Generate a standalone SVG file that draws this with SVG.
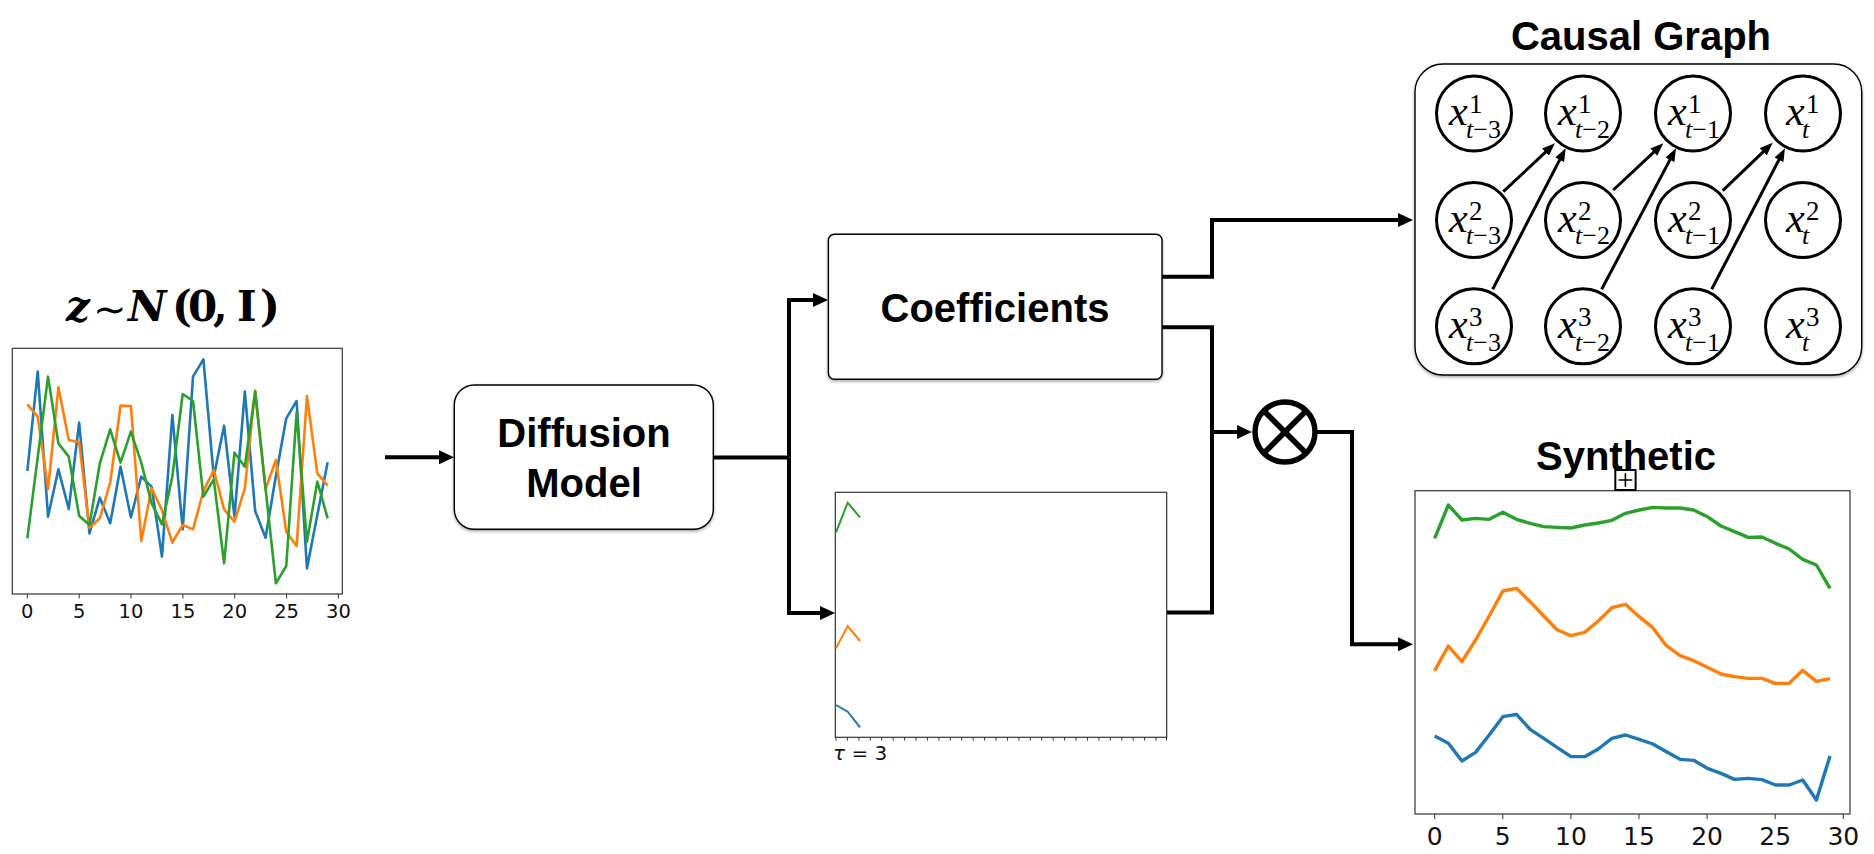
<svg xmlns="http://www.w3.org/2000/svg" width="1874" height="854" viewBox="0 0 1874 854">
<style>
.conn{fill:none;stroke:#000;stroke-width:4;stroke-linejoin:miter;stroke-linecap:butt}
.arrow{marker-end:url(#ah)}
.box{fill:#fff;stroke:#000;stroke-width:1.4;filter:url(#sh)}
.lbl{font-family:"Liberation Sans",Arial,sans-serif;font-weight:bold;font-size:40px;text-anchor:middle;fill:#000}
.gn circle{fill:#fff;stroke:#000;stroke-width:3}
.math{font-family:"Liberation Serif","Times New Roman",serif;fill:#000}
.x{font-size:42px;font-style:italic}
.sp{font-size:27px}
.sb{font-size:26px}
.it{font-style:italic}
.edge{fill:none;stroke:#000;stroke-width:3;marker-end:url(#ah2)}
.frame{fill:#fff;stroke:#333;stroke-width:1.2}
.tick{stroke:#333;stroke-width:1}
.tl{font-family:"DejaVu Sans",sans-serif;text-anchor:middle;fill:#111}
.s{fill:none;stroke-linejoin:round;vector-effect:non-scaling-stroke}
.b{stroke:#1f77b4}.o{stroke:#ff7f0e}.g{stroke:#2ca02c}
</style>
<defs>
<filter id="sh" x="-10%" y="-10%" width="120%" height="130%">
<feDropShadow dx="0" dy="1.5" stdDeviation="1.5" flood-color="#000" flood-opacity="0.35"/>
</filter>
<marker id="ah" markerUnits="userSpaceOnUse" markerWidth="16" markerHeight="14" refX="7" refY="7" orient="auto"><path d="M0,0 L15,7 L0,14 z" fill="#000"/></marker>
<marker id="ah2" markerUnits="userSpaceOnUse" markerWidth="14" markerHeight="10" refX="7" refY="5" orient="auto"><path d="M0,0 L13,5 L0,10 z" fill="#000"/></marker>
</defs>
<rect width="1874" height="854" fill="#fff"/>

<!-- Noise input plot -->
<g id="noise-input">
<text font-family="DejaVu Serif,serif" font-weight="bold" font-size="42" y="321" fill="#000"><tspan x="66" font-style="italic">z</tspan><tspan x="93" y="323" font-family="DejaVu Sans,sans-serif" font-weight="normal" font-size="40">∼</tspan><tspan x="128" y="321" font-style="italic">N</tspan><tspan x="172">(</tspan><tspan x="188">0</tspan><tspan x="213">,</tspan><tspan x="237">I</tspan><tspan x="260">)</tspan></text>
<rect class="frame" x="12.3" y="348.3" width="330" height="245.7"/>
<g transform="translate(0,270) scale(0.33333)">
<polyline class="s b" stroke-width="2.6" points="82,603 113.1,305 144.1,740 175.2,598 206.3,717 237.4,458 268.4,790 299.5,683 330.6,760 361.6,590 392.7,742 423.8,620 454.8,650 485.9,860 517,435 548.1,778 579.1,320 610.2,268 641.3,620 672.3,467 703.4,740 734.5,365 765.5,723 796.6,803 827.7,618 858.8,445 889.8,393 920.9,895 952,735 983,577"/>
<polyline class="s o" stroke-width="2.6" points="82,403 113.1,440 144.1,657 175.2,352 206.3,510 237.4,517 268.4,773 299.5,745 330.6,638 361.6,407 392.7,408 423.8,813 454.8,655 485.9,720 517,818 548.1,765 579.1,778 610.2,663 641.3,600 672.3,718 703.4,755 734.5,655 765.5,362 796.6,658 827.7,570 858.8,785 889.8,828 920.9,378 952,610 983,647"/>
<polyline class="s g" stroke-width="2.6" points="82,805 113.1,562 144.1,320 175.2,520 206.3,560 237.4,737 268.4,765 299.5,580 330.6,478 361.6,578 392.7,485 423.8,578 454.8,700 485.9,763 517,620 548.1,372 579.1,393 610.2,680 641.3,628 672.3,880 703.4,548 734.5,590 765.5,365 796.6,655 827.7,940 858.8,888 889.8,428 920.9,815 952,635 983,745"/>
</g>
<path class="tick" d="M27.3,594V598.5M79.2,594V598.5M131,594V598.5M182.9,594V598.5M234.7,594V598.5M286.6,594V598.5M338.4,594V598.5"/>
<g class="tl" font-size="19.5">
<text x="27.3" y="617.5">0</text><text x="79.2" y="617.5">5</text><text x="131" y="617.5">10</text><text x="182.9" y="617.5">15</text><text x="234.7" y="617.5">20</text><text x="286.6" y="617.5">25</text><text x="338.4" y="617.5">30</text>
</g>
</g>

<!-- Diffusion model -->
<g id="diffusion-model">
<rect class="box" x="454.3" y="385" width="259" height="144.3" rx="20"/>
<text class="lbl" font-size="39.5" x="584" y="446.7">Diffusion</text>
<text class="lbl" font-size="39.5" x="584" y="497.3">Model</text>
</g>

<!-- Coefficients -->
<g id="coefficients">
<rect class="box" x="828.4" y="234.3" width="333.6" height="145" rx="6"/>
<text class="lbl" x="995" y="321.5">Coefficients</text>
</g>

<!-- Lag plot -->
<g id="lag-plot">
<rect class="frame" x="835.3" y="492.3" width="331.4" height="245"/>
<polyline fill="none" stroke="#2ca02c" stroke-width="2" points="836,532.3 847.7,502.7 860,517.3"/>
<polyline fill="none" stroke="#ff7f0e" stroke-width="2" points="836,648.3 847.7,626 860,641"/>
<polyline fill="none" stroke="#1f77b4" stroke-width="2" points="836,705 847.7,711.7 860,727.3"/>
<path class="tick" stroke="#555" d="M836,737.3v3.3M847.4,737.3v3.3M858.9,737.3v3.3M870.3,737.3v3.3M881.7,737.3v3.3M893.2,737.3v3.3M904.6,737.3v3.3M916,737.3v3.3M927.4,737.3v3.3M938.9,737.3v3.3M950.3,737.3v3.3M961.7,737.3v3.3M973.2,737.3v3.3M984.6,737.3v3.3M996,737.3v3.3M1007.5,737.3v3.3M1018.9,737.3v3.3M1030.3,737.3v3.3M1041.7,737.3v3.3M1053.2,737.3v3.3M1064.6,737.3v3.3M1076,737.3v3.3M1087.5,737.3v3.3M1098.9,737.3v3.3M1110.3,737.3v3.3M1121.8,737.3v3.3M1133.2,737.3v3.3M1144.6,737.3v3.3M1156,737.3v3.3M1166.5,737.3v3.3"/>
<text font-family="DejaVu Sans,sans-serif" font-size="20" x="833" y="760" fill="#111"><tspan font-style="italic">τ</tspan> = 3</text>
</g>

<!-- Multiply -->
<g id="multiply">
<circle cx="1285" cy="432" r="30" fill="#fff" stroke="#000" stroke-width="5.5"/>
<path d="M1263.8,410.8L1306.2,453.2M1306.2,410.8L1263.8,453.2" stroke="#000" stroke-width="5.5"/>
</g>

<!-- Causal graph -->
<g id="causal-graph">
<text class="lbl" x="1641" y="50">Causal Graph</text>
<rect class="box" x="1415" y="64" width="446.7" height="311" rx="28"/>
</g>
<g id="node-x1-t3" class="gn"><circle cx="1474" cy="113.5" r="37.5"/><text class="math"><tspan class="x" x="1449" y="125">x</tspan><tspan class="sp" x="1469" y="113">1</tspan><tspan class="sb" x="1466" y="137.5"><tspan class="it">t</tspan>−3</tspan></text></g>
<g id="node-x1-t2" class="gn"><circle cx="1583" cy="113.5" r="37.5"/><text class="math"><tspan class="x" x="1558" y="125">x</tspan><tspan class="sp" x="1578" y="113">1</tspan><tspan class="sb" x="1575" y="137.5"><tspan class="it">t</tspan>−2</tspan></text></g>
<g id="node-x1-t1" class="gn"><circle cx="1693" cy="113.5" r="37.5"/><text class="math"><tspan class="x" x="1668" y="125">x</tspan><tspan class="sp" x="1688" y="113">1</tspan><tspan class="sb" x="1685" y="137.5"><tspan class="it">t</tspan>−1</tspan></text></g>
<g id="node-x1-t" class="gn"><circle cx="1803" cy="113.5" r="37.5"/><text class="math"><tspan class="x" x="1786" y="125">x</tspan><tspan class="sp" x="1806" y="113">1</tspan><tspan class="sb it" x="1802" y="137.5">t</tspan></text></g>
<g id="node-x2-t3" class="gn"><circle cx="1474" cy="220" r="37.5"/><text class="math"><tspan class="x" x="1449" y="231.5">x</tspan><tspan class="sp" x="1469" y="219.5">2</tspan><tspan class="sb" x="1466" y="244"><tspan class="it">t</tspan>−3</tspan></text></g>
<g id="node-x2-t2" class="gn"><circle cx="1583" cy="220" r="37.5"/><text class="math"><tspan class="x" x="1558" y="231.5">x</tspan><tspan class="sp" x="1578" y="219.5">2</tspan><tspan class="sb" x="1575" y="244"><tspan class="it">t</tspan>−2</tspan></text></g>
<g id="node-x2-t1" class="gn"><circle cx="1693" cy="220" r="37.5"/><text class="math"><tspan class="x" x="1668" y="231.5">x</tspan><tspan class="sp" x="1688" y="219.5">2</tspan><tspan class="sb" x="1685" y="244"><tspan class="it">t</tspan>−1</tspan></text></g>
<g id="node-x2-t" class="gn"><circle cx="1803" cy="220" r="37.5"/><text class="math"><tspan class="x" x="1786" y="231.5">x</tspan><tspan class="sp" x="1806" y="219.5">2</tspan><tspan class="sb it" x="1802" y="244">t</tspan></text></g>
<g id="node-x3-t3" class="gn"><circle cx="1474" cy="326.3" r="37.5"/><text class="math"><tspan class="x" x="1449" y="338">x</tspan><tspan class="sp" x="1469" y="326">3</tspan><tspan class="sb" x="1466" y="350.5"><tspan class="it">t</tspan>−3</tspan></text></g>
<g id="node-x3-t2" class="gn"><circle cx="1583" cy="326.3" r="37.5"/><text class="math"><tspan class="x" x="1558" y="338">x</tspan><tspan class="sp" x="1578" y="326">3</tspan><tspan class="sb" x="1575" y="350.5"><tspan class="it">t</tspan>−2</tspan></text></g>
<g id="node-x3-t1" class="gn"><circle cx="1693" cy="326.3" r="37.5"/><text class="math"><tspan class="x" x="1668" y="338">x</tspan><tspan class="sp" x="1688" y="326">3</tspan><tspan class="sb" x="1685" y="350.5"><tspan class="it">t</tspan>−1</tspan></text></g>
<g id="node-x3-t" class="gn"><circle cx="1803" cy="326.3" r="37.5"/><text class="math"><tspan class="x" x="1786" y="338">x</tspan><tspan class="sp" x="1806" y="326">3</tspan><tspan class="sb it" x="1802" y="350.5">t</tspan></text></g>

<!-- Synthetic plot -->
<g id="synthetic">
<text class="lbl" x="1626" y="470">Synthetic</text>
<rect class="frame" x="1415" y="490.7" width="435" height="323.3"/>
<rect x="1615.3" y="470" width="20.3" height="20" fill="#fff" stroke="#000" stroke-width="2"/>
<path d="M1618.5,480H1632.3M1625.4,473.3V486.7" stroke="#000" stroke-width="1.6"/>
<g transform="translate(1400,430) scale(0.33333)">
<polyline class="s g" stroke-width="3.4" points="104,325 144.9,225 185.8,270 226.7,265 267.6,268 308.5,247 349.4,268 390.3,280 431.2,290 472.1,292 513,294 553.9,285 594.8,279 635.7,271 676.6,250 717.5,240 758.4,232 799.3,234 840.2,234 881.1,240 922,260 962.9,288 1003.8,305 1044.7,322 1085.6,321 1126.5,340 1167.4,357 1208.3,388 1249.2,405 1290.1,475"/>
<polyline class="s o" stroke-width="3.4" points="104,722 144.9,648 185.8,695 226.7,630 267.6,558 308.5,483 349.4,475 390.3,515 431.2,558 472.1,600 513,617 553.9,607 594.8,573 635.7,533 676.6,523 717.5,560 758.4,593 799.3,647 840.2,677 881.1,692 922,712 962.9,732 1003.8,740 1044.7,745 1085.6,745 1126.5,760 1167.4,760 1208.3,721 1249.2,754 1290.1,746"/>
<polyline class="s b" stroke-width="3.4" points="104,918 144.9,940 185.8,993 226.7,967 267.6,915 308.5,860 349.4,853 390.3,898 431.2,925 472.1,953 513,980 553.9,980 594.8,957 635.7,925 676.6,915 717.5,928 758.4,942 799.3,965 840.2,988 881.1,991 922,1015 962.9,1030 1003.8,1048 1044.7,1045 1085.6,1049 1126.5,1065 1167.4,1065 1208.3,1050 1249.2,1110 1290.1,978"/>
</g>
<path class="tick" d="M1434.7,814V819M1502.8,814V819M1570.9,814V819M1639,814V819M1707.1,814V819M1775.2,814V819M1843.3,814V819"/>
<g class="tl" font-size="25">
<text x="1434.7" y="845">0</text><text x="1502.8" y="845">5</text><text x="1570.9" y="845">10</text><text x="1639" y="845">15</text><text x="1707.1" y="845">20</text><text x="1775.2" y="845">25</text><text x="1843.3" y="845">30</text>
</g>
</g>

<!-- Connectors -->
<g id="connectors">
<path class="conn arrow" d="M385,457.3H446"/>
<path class="conn" d="M713,457.5H789"/>
<path class="conn arrow" d="M789,457.5V300H820"/>
<path class="conn arrow" d="M789,457.5V613H827"/>
<path class="conn arrow" d="M1162,276.7H1212V220H1405"/>
<path class="conn" d="M1162,327.3H1212V612.5M1167,612.5H1214"/>
<path class="conn arrow" d="M1212,432H1244"/>
<path class="conn arrow" d="M1315,432H1352V644.3H1405"/>
<path class="edge" d="M1503.3,191.7L1550.6,147.4"/>
<path class="edge" d="M1492.7,289.3L1562.9,153.6"/>
<path class="edge" d="M1613.3,190L1658.9,147.4"/>
<path class="edge" d="M1601.7,289.3L1673.2,153.6"/>
<path class="edge" d="M1722.7,190.7L1768.4,146.9"/>
<path class="edge" d="M1711.7,289.3L1782.2,153.6"/>
</g>
</svg>
